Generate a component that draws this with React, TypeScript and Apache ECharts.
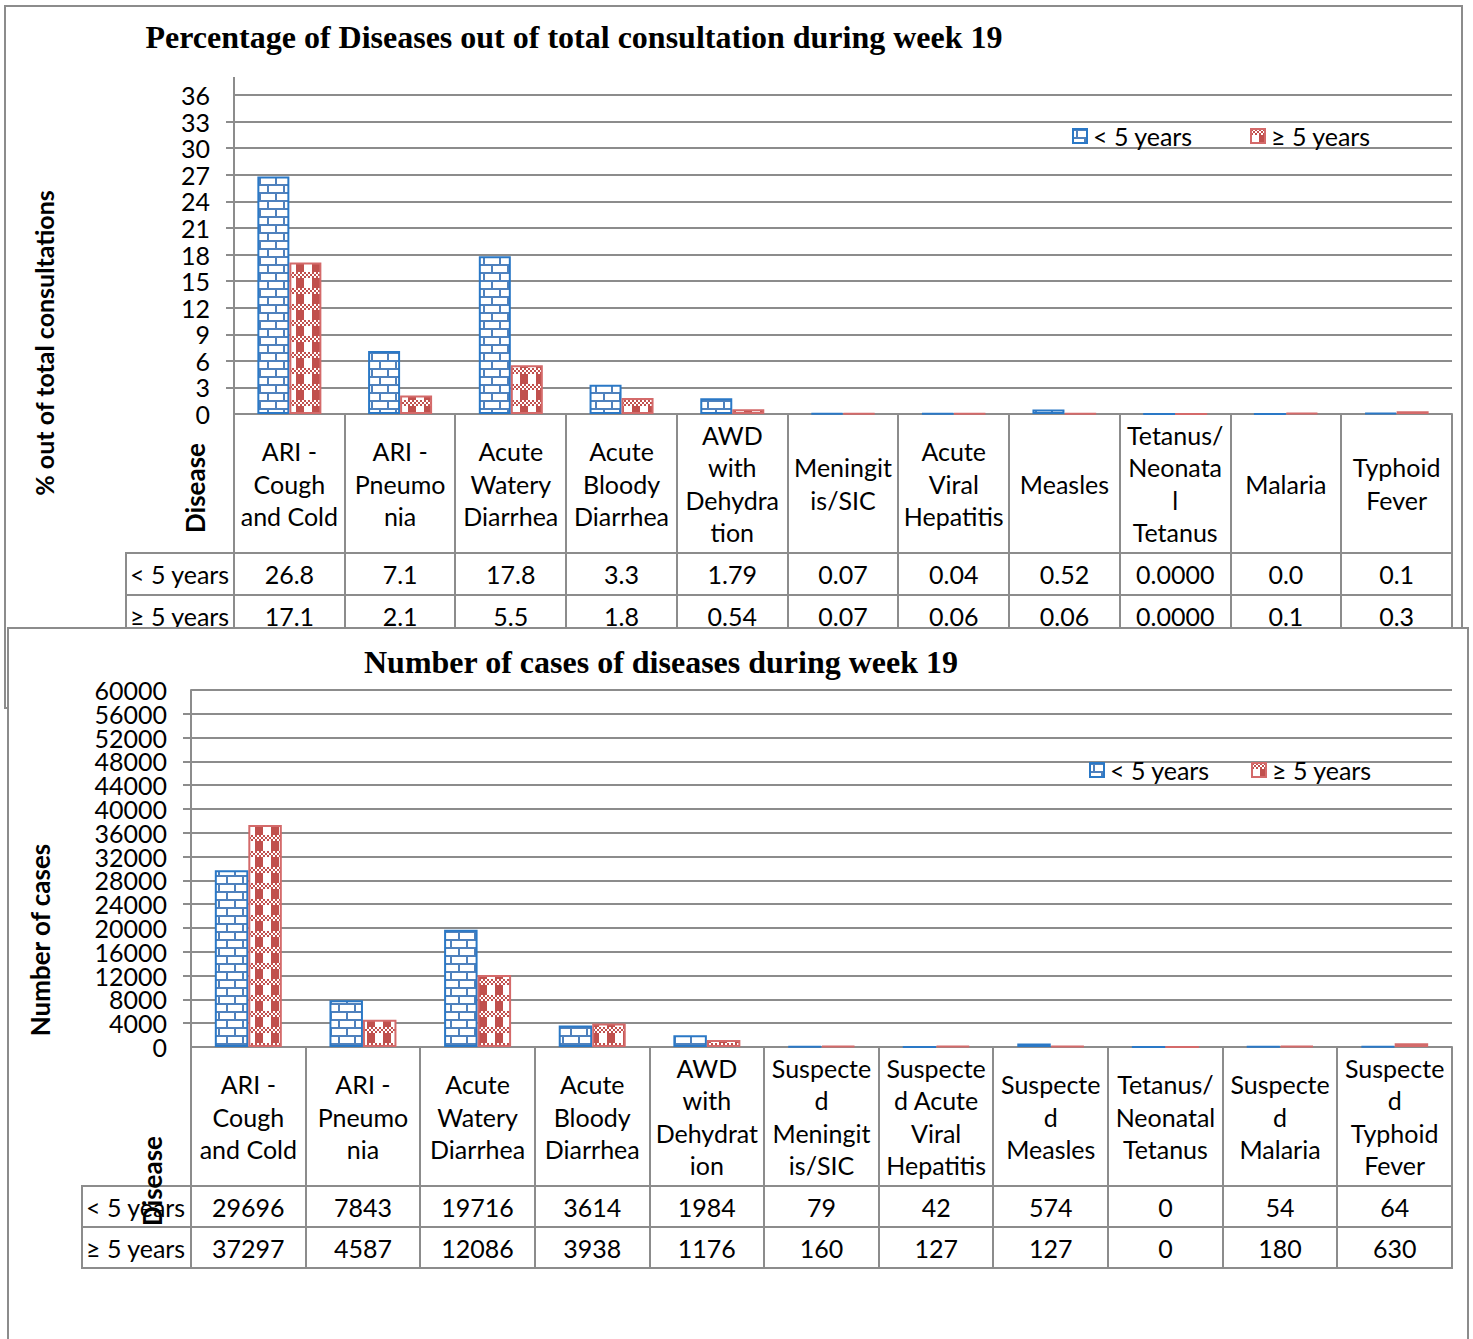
import React, { useEffect, useRef } from "react";
import * as echarts from "echarts";

// ---------------- DATA ----------------
const TITLE1 = "Percentage of Diseases out of total consultation during week 19";
const TITLE2 = "Number of cases of diseases during week 19";
const SERIES_NAMES = ["< 5 years", "≥ 5 years"];
const AXIS1_NAME = "% out of total consultations";
const AXIS2_NAME = "Number of cases";
const TABLE_CORNER = "Disease";

const categories1 = [
  "ARI -\nCough\nand Cold",
  "ARI -\nPneumo\nnia",
  "Acute\nWatery\nDiarrhea",
  "Acute\nBloody\nDiarrhea",
  "AWD\nwith\nDehydra\ntion",
  "Meningit\nis/SIC",
  "Acute\nViral\nHepatitis",
  "Measles",
  "Tetanus/\nNeonata\nl\nTetanus",
  "Malaria",
  "Typhoid\nFever",
];
const pctUnder5 = ["26.8", "7.1", "17.8", "3.3", "1.79", "0.07", "0.04", "0.52", "0.0000", "0.0", "0.1"];
const pctOver5 = ["17.1", "2.1", "5.5", "1.8", "0.54", "0.07", "0.06", "0.06", "0.0000", "0.1", "0.3"];

const categories2 = [
  "ARI -\nCough\nand Cold",
  "ARI -\nPneumo\nnia",
  "Acute\nWatery\nDiarrhea",
  "Acute\nBloody\nDiarrhea",
  "AWD\nwith\nDehydrat\nion",
  "Suspecte\nd\nMeningit\nis/SIC",
  "Suspecte\nd Acute\nViral\nHepatitis",
  "Suspecte\nd\nMeasles",
  "Tetanus/\nNeonatal\nTetanus",
  "Suspecte\nd\nMalaria",
  "Suspecte\nd\nTyphoid\nFever",
];
const casesUnder5 = [29696, 7843, 19716, 3614, 1984, 79, 42, 574, 0, 54, 64];
const casesOver5 = [37297, 4587, 12086, 3938, 1176, 160, 127, 127, 0, 180, 630];

const Y1 = { min: 0, max: 36, interval: 3 };
const Y2 = { min: 0, max: 60000, interval: 4000 };

// ---------------- STYLE ----------------
const FONT = "Lato, 'Noto Sans', sans-serif";
const SERIF = "'Liberation Serif', 'DejaVu Serif', serif";
const GRAY = "#8c8c8c";
const BLUE_LINE = "#4F81BD";
const BLUE_EDGE = "#2A78C6";
const RED_FILL = "#C0504D";
const RED_EDGE = "#D46A6A";
const FS = 26;
const FS_T = 25;
const FS_Y = 25;

function brickPattern() {
  const c = document.createElement("canvas");
  c.width = 16;
  c.height = 16;
  const g = c.getContext("2d")!;
  g.fillStyle = "#ffffff";
  g.fillRect(0, 0, 16, 16);
  g.fillStyle = BLUE_LINE;
  g.fillRect(0, 0, 16, 2);
  g.fillRect(0, 8, 16, 2);
  g.fillRect(3, 2, 2, 6);
  g.fillRect(11, 10, 2, 6);
  return { image: c.toDataURL(), repeat: "repeat", imageWidth: 16, imageHeight: 16 } as any;
}

function checkPattern() {
  const c = document.createElement("canvas");
  c.width = 16;
  c.height = 16;
  const g = c.getContext("2d")!;
  g.fillStyle = "#ffffff";
  g.fillRect(0, 0, 16, 16);
  g.fillStyle = RED_FILL;
  for (let y = 0; y < 6; y += 2) {
    for (let x = 0; x < 16; x += 2) {
      if (((x + y) / 2) % 2 === 0) g.fillRect(x, y, 2, 2);
    }
  }
  g.fillRect(8, 6, 8, 10);
  return { image: c.toDataURL(), repeat: "repeat", imageWidth: 16, imageHeight: 16 } as any;
}

type TableLayout = {
  tableLeft: number;
  gridLeft: number;
  gridRight: number;
  axisY: number;
  headBottom: number;
  rowH: number;
  labelX: number;
};

function tableGraphics(L: TableLayout, rows: string[][]) {
  const els: any[] = [];
  const n = rows[0].length;
  const cw = (L.gridRight - L.gridLeft) / n;
  const bottom = L.headBottom + L.rowH * rows.length;
  const ls = { stroke: GRAY, lineWidth: 2 };
  for (let i = 0; i <= n; i++) {
    const x = Math.round(L.gridLeft + i * cw);
    els.push({ type: "line", shape: { x1: x, y1: L.axisY, x2: x, y2: bottom }, style: ls, silent: true });
  }
  els.push({ type: "line", shape: { x1: L.tableLeft, y1: L.headBottom, x2: L.tableLeft, y2: bottom }, style: ls, silent: true });
  for (let r = 0; r <= rows.length; r++) {
    const y = L.headBottom + r * L.rowH;
    els.push({ type: "line", shape: { x1: L.tableLeft - 1, y1: y, x2: L.gridRight + 1, y2: y }, style: ls, silent: true });
  }
  rows.forEach((row, r) => {
    const cy = L.headBottom + (r + 0.5) * L.rowH;
    els.push({
      type: "text",
      x: L.labelX,
      y: cy,
      style: { text: SERIES_NAMES[r], font: `${FS_T}px ${FONT}`, fill: "#000", align: "left", verticalAlign: "middle" },
      silent: true,
    });
    row.forEach((v, i) => {
      els.push({
        type: "text",
        x: L.gridLeft + (i + 0.5) * cw,
        y: cy,
        style: { text: v, font: `${FS_T}px ${FONT}`, fill: "#000", align: "center", verticalAlign: "middle" },
        silent: true,
      });
    });
  });
  return els;
}

function yLabelStyle(labelMargin: number) {
  return {
    margin: labelMargin,
    fontSize: FS_Y,
    fontFamily: FONT,
    color: "#000",
    lineHeight: 10,
    verticalAlign: "middle",
    hideOverlap: false,
  };
}

function baseAxes(categories: string[], margin: number, y: { min: number; max: number; interval: number }, labelMargin: number) {
  const yMain = {
    type: "value",
    min: y.min,
    max: y.max,
    interval: y.interval,
    position: "left",
    axisLine: { show: true, lineStyle: { color: GRAY, width: 2 } },
    axisTick: { show: true, length: 8, lineStyle: { color: GRAY, width: 2 } },
    axisLabel: {
      ...yLabelStyle(labelMargin),
      showMinLabel: false,
      showMaxLabel: false,
      formatter: (v: number) => String(v),
    },
    splitLine: { show: true, lineStyle: { color: GRAY, width: 2 } },
  };
  // companion axis on the same scale that carries only the end labels
  const yEnds = {
    type: "value",
    min: y.min,
    max: y.max,
    interval: y.interval,
    position: "left",
    offset: 0,
    axisLine: { show: false },
    axisTick: { show: false },
    splitLine: { show: false },
    axisLabel: {
      ...yLabelStyle(labelMargin),
      showMinLabel: true,
      showMaxLabel: true,
      formatter: (v: number) => (v === y.min || v === y.max ? String(v) : ""),
    },
  };
  return {
    xAxis: {
      type: "category",
      data: categories,
      axisLine: { show: true, lineStyle: { color: GRAY, width: 2 } },
      axisTick: { show: false },
      axisLabel: {
        interval: 0,
        margin,
        verticalAlign: "middle",
        lineHeight: 32.5,
        fontSize: FS_T,
        fontFamily: FONT,
        color: "#000",
      },
      splitLine: { show: false },
    },
    yAxis: [yMain, yEnds],
  };
}

function legends(x1: number, x2: number, top: number) {
  const common = {
    icon: "rect",
    itemWidth: 14,
    itemHeight: 14,
    top,
    padding: 0,
    textStyle: { fontSize: FS_T, fontFamily: FONT, color: "#000", lineHeight: 26, padding: [0, 0, 0, 1] },
    selectedMode: false,
  };
  return [
    { ...common, left: x1, data: [SERIES_NAMES[0]] },
    { ...common, left: x2, data: [SERIES_NAMES[1]] },
  ];
}

function barSeries(a: number[], b: number[], barWidth: number, blue: any, red: any) {
  return [
    {
      name: SERIES_NAMES[0],
      type: "bar",
      yAxisIndex: 0,
      data: a,
      barWidth,
      barGap: "0%",
      itemStyle: { color: blue, borderColor: BLUE_EDGE, borderWidth: 2 },
    },
    {
      name: SERIES_NAMES[1],
      type: "bar",
      yAxisIndex: 0,
      data: b,
      barWidth,
      barGap: "0%",
      itemStyle: { color: red, borderColor: RED_EDGE, borderWidth: 2 },
    },
  ];
}

function option1(blue: any, red: any) {
  const grid = { left: 234, top: 95, width: 1218, height: 319 };
  const L: TableLayout = {
    tableLeft: 126,
    gridLeft: grid.left,
    gridRight: grid.left + grid.width,
    axisY: grid.top + grid.height,
    headBottom: 553,
    rowH: 42,
    labelX: 130,
  };
  const axes = baseAxes(categories1, (L.headBottom - L.axisY) / 2, Y1, 24);
  return {
    animation: false,
    backgroundColor: "#fff",
    grid: { ...grid, containLabel: false },
    ...axes,
    legend: legends(1072, 1250, 123),
    series: barSeries(pctUnder5.map(Number), pctOver5.map(Number), 32, blue, red),
    graphic: [
      { type: "rect", shape: { x: 5, y: 6, width: 1457, height: 702 }, style: { fill: "none", stroke: GRAY, lineWidth: 2 }, silent: true, z: -10 },
      { type: "line", shape: { x1: grid.left, y1: 77, x2: grid.left, y2: grid.top }, style: { stroke: GRAY, lineWidth: 2 }, silent: true },
      {
        type: "text",
        x: 574,
        y: 37,
        style: { text: TITLE1, font: `bold 32px ${SERIF}`, fill: "#000", align: "center", verticalAlign: "middle" },
        silent: true,
      },
      {
        type: "text",
        x: 44,
        y: 343,
        rotation: Math.PI / 2,
        style: { text: AXIS1_NAME, font: `bold ${FS_T}px ${FONT}`, fill: "#000", align: "center", verticalAlign: "middle" },
        silent: true,
      },
      {
        type: "text",
        x: 195,
        y: 488,
        rotation: Math.PI / 2,
        style: { text: TABLE_CORNER, font: `bold ${FS}px ${FONT}`, fill: "#000", align: "center", verticalAlign: "middle" },
        silent: true,
      },
      ...tableGraphics(L, [pctUnder5, pctOver5]),
    ],
  };
}

function option2(blue: any, red: any) {
  const grid = { left: 184, top: 63, width: 1261, height: 357 };
  const L: TableLayout = {
    tableLeft: 75,
    gridLeft: grid.left,
    gridRight: grid.left + grid.width,
    axisY: grid.top + grid.height,
    headBottom: 559,
    rowH: 41,
    labelX: 79,
  };
  const axes = baseAxes(categories2, (L.headBottom - L.axisY) / 2, Y2, 24);
  return {
    animation: false,
    backgroundColor: "#fff",
    grid: { ...grid, containLabel: false },
    ...axes,
    legend: legends(1082, 1244, 130),
    series: barSeries(casesUnder5, casesOver5, 33.5, blue, red),
    graphic: [
      { type: "rect", shape: { x: 1, y: 1, width: 1460, height: 800 }, style: { fill: "#fff", stroke: GRAY, lineWidth: 2 }, silent: true, z: -10 },
      {
        type: "text",
        x: 654,
        y: 35,
        style: { text: TITLE2, font: `bold 32px ${SERIF}`, fill: "#000", align: "center", verticalAlign: "middle" },
        silent: true,
      },
      {
        type: "text",
        x: 33,
        y: 313,
        rotation: Math.PI / 2,
        style: { text: AXIS2_NAME, font: `bold ${FS}px ${FONT}`, fill: "#000", align: "center", verticalAlign: "middle" },
        silent: true,
      },
      ...tableGraphics(L, [casesUnder5.map(String), casesOver5.map(String)]),
      {
        type: "text",
        x: 145,
        y: 554,
        rotation: Math.PI / 2,
        z: 10,
        style: { text: TABLE_CORNER, font: `bold ${FS}px ${FONT}`, fill: "#000", align: "center", verticalAlign: "middle" },
        silent: true,
      },
    ],
  };
}

export default function App() {
  const ref1 = useRef<HTMLDivElement>(null);
  const ref2 = useRef<HTMLDivElement>(null);
  useEffect(() => {
    const blue = brickPattern();
    const red = checkPattern();
    const c1 = echarts.init(ref1.current!, undefined, { renderer: "svg" });
    const c2 = echarts.init(ref2.current!, undefined, { renderer: "svg" });
    c1.setOption(option1(blue, red) as any);
    c2.setOption(option2(blue, red) as any);
    return () => {
      c1.dispose();
      c2.dispose();
    };
  }, []);
  return (
    <div style={{ position: "absolute", left: 0, top: 0, width: 1473, height: 1339, background: "#fff", overflow: "hidden" }}>
      <div ref={ref1} style={{ position: "absolute", left: 0, top: 0, width: 1473, height: 712 }} />
      <div ref={ref2} style={{ position: "absolute", left: 7, top: 627, width: 1466, height: 712, background: "#fff" }} />
    </div>
  );
}
